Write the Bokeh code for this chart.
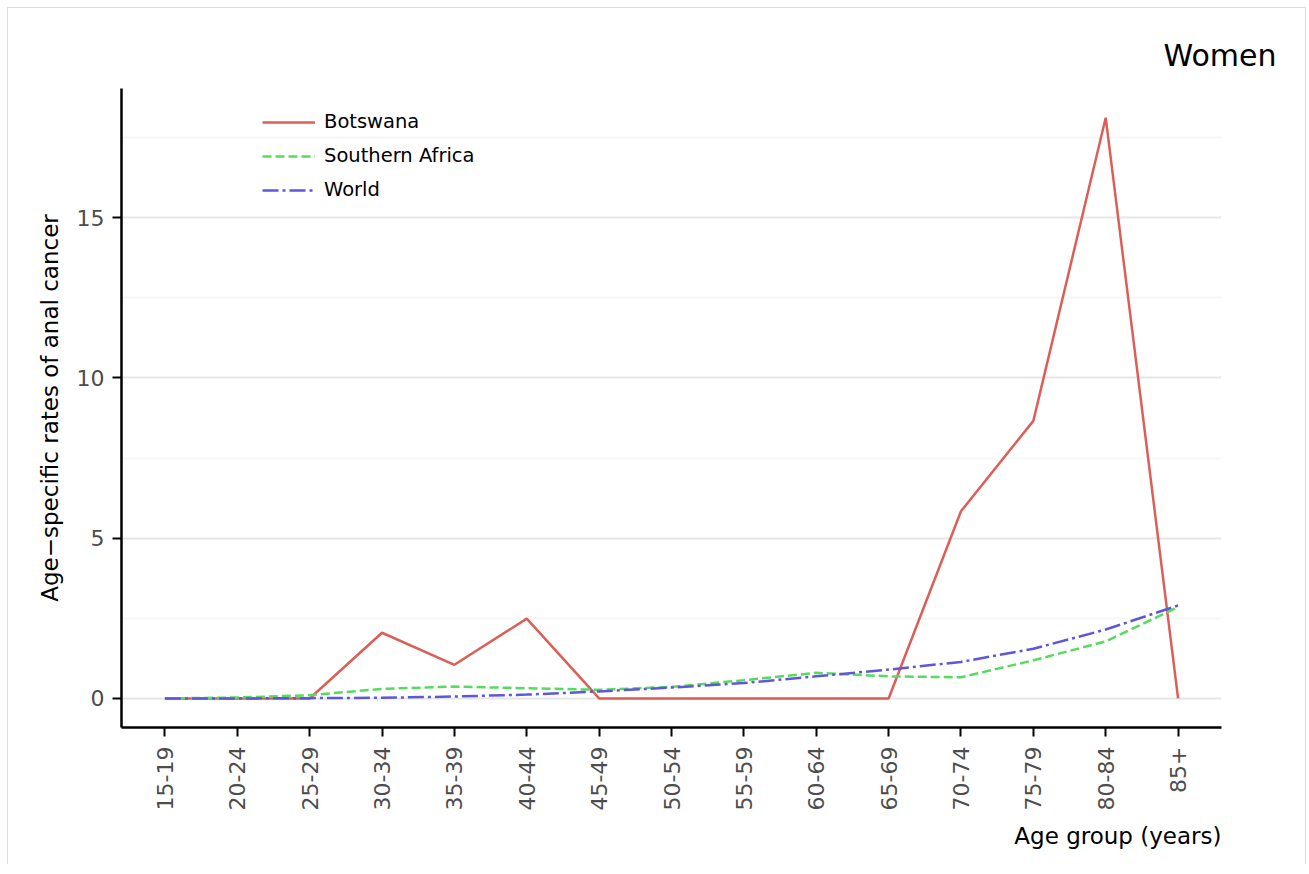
import math
from bokeh.plotting import figure
from bokeh.models import FixedTicker, Range1d, Legend, LegendItem, Title, ColumnDataSource
from bokeh.embed import file_html
from bokeh.resources import INLINE

age_groups = ["15-19", "20-24", "25-29", "30-34", "35-39", "40-44", "45-49", "50-54",
              "55-59", "60-64", "65-69", "70-74", "75-79", "80-84", "85+"]
botswana = [0, 0, 0, 2.05, 1.05, 2.49, 0, 0, 0, 0, 0, 5.84, 8.66, 18.12, 0]
southern_africa = [0, 0.03, 0.1, 0.3, 0.37, 0.32, 0.27, 0.36, 0.57, 0.8, 0.69, 0.66, 1.19, 1.78, 2.85]
world = [0, 0, 0.01, 0.02, 0.06, 0.12, 0.22, 0.34, 0.48, 0.69, 0.9, 1.14, 1.55, 2.15, 2.9]
y_ticks = [0, 5, 10, 15]
y_minor = [2.5, 7.5, 12.5, 17.5]

FONT = "DejaVu Sans"
x = list(range(1, len(age_groups) + 1))

p = figure(width=1299, height=857, output_backend="svg", toolbar_location=None,
           x_range=Range1d(0.4, 15.6), y_range=Range1d(-0.906, 19.03),
           min_border_left=113, min_border_right=86, min_border_top=80, min_border_bottom=138)
p.styles = {"border-top": "1px solid #dddddd", "border-left": "1px solid #dddddd",
            "border-right": "1px solid #dddddd", "margin-left": "7px", "margin-top": "7px"}
p.outline_line_color = None
p.background_fill_color = "white"
p.border_fill_color = "white"

src = ColumnDataSource(dict(x=x, b=botswana, s=southern_africa, w=world))
r1 = p.line("x", "b", source=src, line_color="#db5f57", line_width=2.5)
r2 = p.line("x", "s", source=src, line_color="#57db5f", line_width=2.5, line_dash="9 4")
r3 = p.line("x", "w", source=src, line_color="#5f57db", line_width=2.5, line_dash="16 4 3 4")

# axes
p.xaxis.ticker = FixedTicker(ticks=x)
p.xaxis.major_label_overrides = {i: lab for i, lab in zip(x, age_groups)}
p.xaxis.major_label_orientation = math.pi / 2
p.yaxis.ticker = FixedTicker(ticks=y_ticks, minor_ticks=y_minor)
for ax in (p.xaxis[0], p.yaxis[0]):
    ax.axis_line_color = "black"
    ax.axis_line_width = 2.5
    ax.major_tick_line_color = "black"
    ax.major_tick_line_width = 2
    ax.major_tick_out = 9
    ax.major_tick_in = 0
    ax.minor_tick_line_color = None
    ax.major_label_text_font = FONT
    ax.major_label_text_font_size = "22px"
    ax.major_label_text_color = "#4d4d4d"
    ax.major_label_standoff = 8
    ax.axis_label_text_font = FONT
    ax.axis_label_text_font_style = "normal"
    ax.axis_label_text_color = "black"
    ax.axis_label_text_font_size = "23px"
p.xaxis.major_label_standoff = 10

p.yaxis.axis_label = "Age\u2212specific rates of anal cancer"
p.yaxis.axis_label_standoff = 11

p.xgrid.grid_line_color = None
p.ygrid.grid_line_color = "#e6e6e6"
p.ygrid.grid_line_width = 2
p.ygrid.minor_grid_line_color = "#f7f7f7"
p.ygrid.minor_grid_line_width = 2

# titles
p.add_layout(Title(text="Women", align="right", offset=-55, standoff=31,
                   text_font=FONT, text_font_size="30px", text_font_style="normal",
                   text_color="black"), "above")
p.add_layout(Title(text="Age group (years)", align="right", offset=0, standoff=15,
                   text_font=FONT, text_font_size="23px", text_font_style="normal",
                   text_color="black"), "below")

legend = Legend(items=[LegendItem(label="Botswana", renderers=[r1]),
                       LegendItem(label="Southern Africa", renderers=[r2]),
                       LegendItem(label="World", renderers=[r3])],
                location=(141, 526), padding=0, margin=0, spacing=11,
                glyph_width=53, glyph_height=20, label_height=20, label_standoff=9,
                label_text_font=FONT, label_text_font_size="19.5px", label_text_color="black",
                border_line_color=None, background_fill_alpha=0)
p.add_layout(legend)

open("out.html", "w").write(file_html(p, INLINE))
